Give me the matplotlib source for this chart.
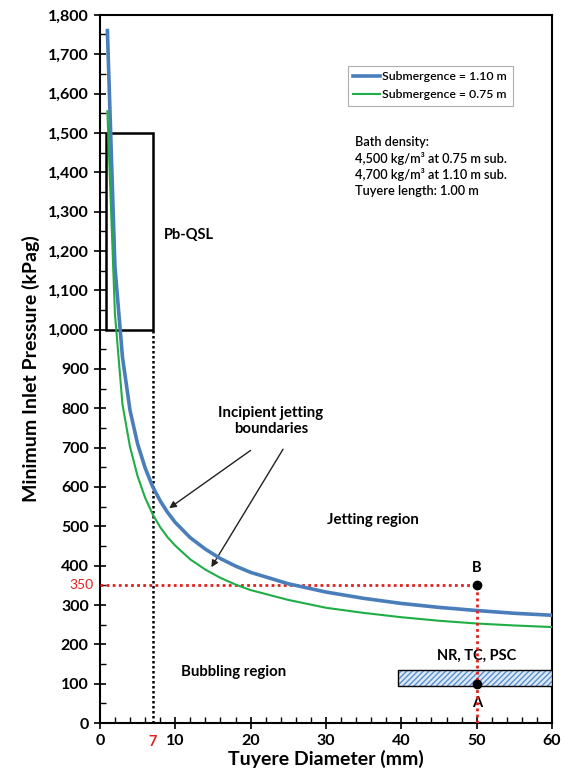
import matplotlib
matplotlib.use("Agg")
import matplotlib.pyplot as plt
import matplotlib.patches as mpatches
from matplotlib.ticker import MultipleLocator, FuncFormatter

plt.rcParams["font.family"] = ["Lato", "DejaVu Sans"]
plt.rcParams["hatch.linewidth"] = 1.0

# Tuyere diameter (mm)
diameter = [1, 2, 3, 4, 5, 6, 7, 8, 9, 10, 12, 14, 16, 18, 20, 25, 30, 35, 40, 45, 50, 55, 60]
# Minimum inlet pressure (kPag), submergence 1.10 m
p_110 = [1760, 1160, 930, 795, 710, 649, 601, 565, 535, 510, 471, 442, 418, 399, 383,
         354, 333, 317, 304, 294, 286, 279, 274]
# Minimum inlet pressure (kPag), submergence 0.75 m
p_075 = [1555, 1040, 810, 702, 628, 573, 531, 498, 472, 451, 416, 390, 369, 352, 338,
         313, 293, 280, 269, 260, 253, 248, 244]

# Pb-QSL operating window
qsl_x = (0.8, 7)
qsl_y = (1000, 1500)
# NR, TC, PSC operating band
band_x = (39.5, 60)
band_y = (95, 135)
# Points A and B
pt_x = 50
pt_a = 100
pt_b = 350

fig = plt.figure(figsize=(5.61, 7.8), dpi=100)
ax = fig.add_axes([0.178, 0.073, 0.806, 0.908])

ax.plot(diameter, p_110, color="#4a7ebb", lw=2.6, label="Submergence = 1.10 m", zorder=4)
ax.plot(diameter, p_075, color="#1fad45", lw=1.5, label="Submergence = 0.75 m", zorder=4)

# Pb-QSL box
ax.add_patch(mpatches.Rectangle((qsl_x[0], qsl_y[0]), qsl_x[1] - qsl_x[0], qsl_y[1] - qsl_y[0],
                                fill=False, ec="black", lw=1.8, zorder=3))
ax.text(8.5, 1240, "Pb-QSL", fontsize=10.5, fontweight="bold", va="center")
ax.plot([7, 7], [0, qsl_y[0]], color="black", ls=(0, (1, 1)), lw=1.8, zorder=3)

# NR, TC, PSC band: hatched fill plus black outline
bw = band_x[1] - band_x[0]
bh = band_y[1] - band_y[0]
ax.add_patch(mpatches.Rectangle((band_x[0], band_y[0]), bw, bh,
                                fc="#dce9f7", ec="#5b8fd0", lw=0, hatch="//////", zorder=3))
ax.add_patch(mpatches.Rectangle((band_x[0], band_y[0]), bw, bh,
                                fill=False, ec="black", lw=1.0, zorder=3))
ax.text(50, 172, "NR, TC, PSC", fontsize=10.5, fontweight="bold", ha="center", va="center")

# reference lines for point B
ax.plot([0, pt_x], [pt_b, pt_b], color="#e0221f", ls=(0, (1, 1.2)), lw=2.0, zorder=3)
ax.plot([pt_x, pt_x], [0, pt_b], color="#e0221f", ls=(0, (1, 1.2)), lw=2.0, zorder=5)
ax.plot([pt_x, pt_x], [pt_a, pt_b], "o", color="black", ms=6, zorder=6)
ax.text(pt_x, pt_b + 45, "B", fontsize=10.5, fontweight="bold", ha="center", va="center")
ax.text(pt_x, pt_a - 50, "A", fontsize=10.5, fontweight="bold", ha="center", va="center")

ax.text(17.8, 130, "Bubbling region", fontsize=10.8, fontweight="bold", ha="center", va="center")
ax.text(36.3, 516, "Jetting region", fontsize=10.8, fontweight="bold", ha="center", va="center")
ax.text(22.7, 768, "Incipient jetting\nboundaries", fontsize=10.8, fontweight="bold",
        ha="center", va="center", linespacing=1.15)
ax.annotate("", xy=(8.9, 542), xytext=(20.3, 697),
            arrowprops=dict(arrowstyle="-|>", color="#222222", lw=1.0, mutation_scale=10))
ax.annotate("", xy=(14.6, 390), xytext=(24.5, 702),
            arrowprops=dict(arrowstyle="-|>", color="#222222", lw=1.0, mutation_scale=10))

ax.text(33.8, 1415, "Bath density:\n4,500 kg/m³ at 0.75 m sub.\n4,700 kg/m³ at 1.10 m sub.\n"
        "Tuyere length: 1.00 m", fontsize=9.2, fontweight="semibold", va="center", linespacing=1.35)

leg = ax.legend(loc="upper left", bbox_to_anchor=(0.548, 0.928),
                prop={"weight": "semibold", "size": 8.8}, frameon=True, fancybox=False,
                edgecolor="#999999", handlelength=2.2, handletextpad=0.2, borderpad=0.45,
                labelspacing=0.55, borderaxespad=0)
leg.get_frame().set_linewidth(0.8)

ax.set_xlim(0, 60)
ax.set_ylim(0, 1800)
ax.xaxis.set_major_locator(MultipleLocator(10))
ax.xaxis.set_minor_locator(MultipleLocator(2))
ax.yaxis.set_major_locator(MultipleLocator(100))
ax.yaxis.set_minor_locator(MultipleLocator(50))
ax.yaxis.set_major_formatter(FuncFormatter(lambda v, p: f"{int(v):,}"))
ax.tick_params(which="major", direction="inout", length=8, width=1.2, labelsize=11.5, pad=4)
ax.tick_params(which="minor", direction="in", length=4, width=1.0)
ax.tick_params(axis="x", which="both", top=False)
ax.tick_params(axis="y", which="both", right=False)
for lbl in ax.get_xticklabels() + ax.get_yticklabels():
    lbl.set_fontweight("bold")
for sp in ax.spines.values():
    sp.set_linewidth(1.5)

# red highlight labels
ax.text(-0.014, pt_b, "350", transform=ax.get_yaxis_transform(), color="#e0221f",
        fontsize=10, ha="right", va="center")
ax.text(7, -0.017, "7", transform=ax.get_xaxis_transform(), color="#e0221f",
        fontsize=10.5, fontweight="bold", ha="center", va="top")

ax.set_xlabel("Tuyere Diameter (mm)", fontsize=14, fontweight="bold", labelpad=1)
ax.set_ylabel("Minimum Inlet Pressure (kPag)", fontsize=14, fontweight="bold", labelpad=6)

fig.savefig("out.png", dpi=100)
